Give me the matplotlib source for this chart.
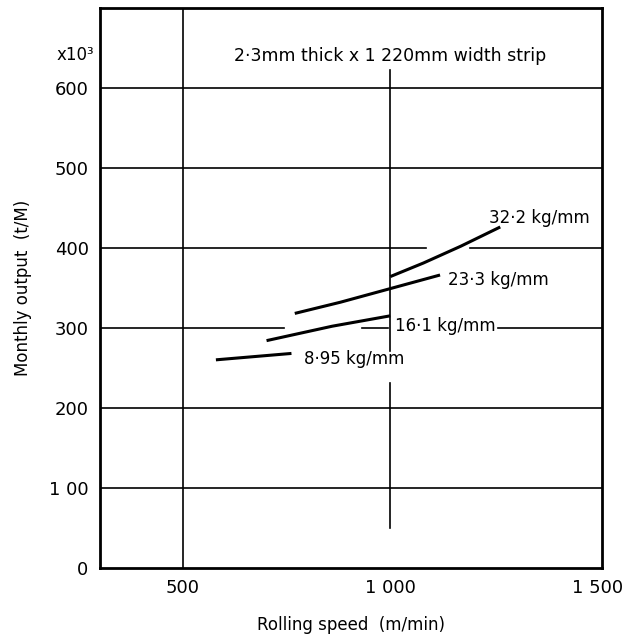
import matplotlib
matplotlib.use("Agg")
import matplotlib.pyplot as plt
import numpy as np

plt.rcParams['font.family'] = ['DejaVu Sans']

# Data (rolling speed m/min, monthly output x10^3 t/M)
s322_x = [1000, 1080, 1170, 1265]
s322_y = [364, 381, 402, 426]
s233_x = [770, 880, 1000, 1120]
s233_y = [318, 332, 349, 366]
s161_x = [702, 860, 1000]
s161_y = [284, 302, 315]
s895_x = [580, 762]
s895_y = [260, 268]

series_labels = ["32·2 kg/mm", "23·3 kg/mm", "16·1 kg/mm", "8·95 kg/mm"]

x_ticks = [500, 1000, 1500]
x_ticklabels = ["500", "1 000", "1 500"]
y_ticks = [0, 100, 200, 300, 400, 500, 600]
y_ticklabels = ["0", "1 00", "200", "300", "400", "500", "600"]

title_text = "2·3mm thick x 1 220mm width strip"
x_label = "Rolling speed  (m/min)"
y_label = "Monthly output  (t/M)"
y_unit = "x10³"

fig = plt.figure(figsize=(6.39, 6.41), dpi=100)
ax = fig.add_axes([0.156, 0.114, 0.786, 0.874])
ax.set_xlim(300, 1510)
ax.set_ylim(0, 700)

gkw = dict(color='black', lw=1.2, zorder=1)
# horizontal grid (with small gaps like the original drawing)
for yv in [100, 200, 500, 600]:
    ax.plot([300, 1510], [yv, yv], **gkw)
ax.plot([300, 1086], [400, 400], **gkw)
ax.plot([1193, 1510], [400, 400], **gkw)
ax.plot([300, 745], [300, 300], **gkw)
ax.plot([931, 995], [300, 300], **gkw)
ax.plot([1260, 1510], [300, 300], **gkw)
# vertical grid
ax.plot([500, 500], [0, 700], **gkw)
ax.plot([1000, 1000], [271, 622], **gkw)
ax.plot([1000, 1000], [50, 231], **gkw)

lkw = dict(color='black', lw=2.2, solid_capstyle='butt', zorder=3)
ax.plot(s322_x, s322_y, **lkw)
ax.plot(s233_x, s233_y, **lkw)
ax.plot(s161_x, s161_y, **lkw)
ax.plot(s895_x, s895_y, **lkw)

fs = 12
ax.text(1237, 426, series_labels[0], fontsize=fs, va='bottom', ha='left')
ax.text(1138, 360, series_labels[1], fontsize=fs, va='center', ha='left')
ax.text(1012, 302, series_labels[2], fontsize=fs, va='center', ha='left')
ax.text(793, 261, series_labels[3], fontsize=fs, va='center', ha='left')

ax.text(1000, 640, title_text, fontsize=12.5, ha='center', va='center')

ax.set_xticks(x_ticks)
ax.set_xticklabels(x_ticklabels)
ax.set_yticks(y_ticks)
ax.set_yticklabels(y_ticklabels)
ax.tick_params(length=0, labelsize=13, pad=8)
ax.set_xlabel(x_label, fontsize=12, labelpad=14)
ax.set_ylabel(y_label, fontsize=12, labelpad=12)
ax.text(-0.012, 641, y_unit, transform=ax.get_yaxis_transform(), fontsize=12,
        ha='right', va='center')

for sp in ax.spines.values():
    sp.set_linewidth(2)

fig.savefig("out.png", dpi=100)
